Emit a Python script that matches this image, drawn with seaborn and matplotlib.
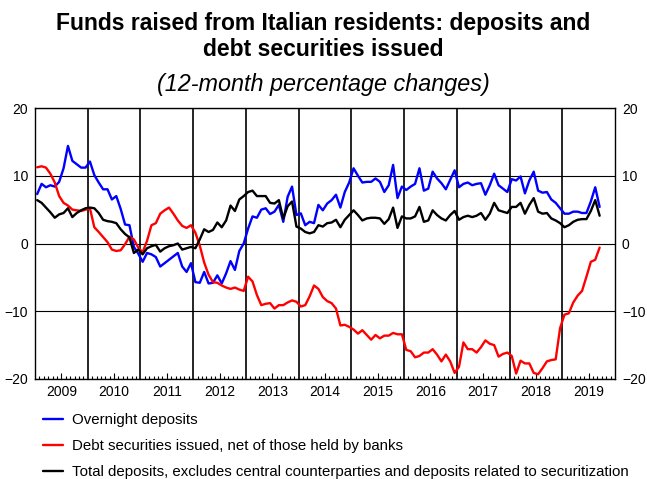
import numpy as np
import pandas as pd
import matplotlib
matplotlib.use("Agg")
import matplotlib.pyplot as plt
import seaborn as sns

# Monthly data, Jan 2009 .. Sep 2019 (12-month % changes)
start_year = 2009
overnight = [
    7.3, 8.8, 8.3, 8.6, 8.4, 9.1, 11.1, 14.4, 12.2, 11.7, 11.2, 11.2,
    12.1, 10.1, 9.0, 8.0, 8.0, 6.5, 7.0, 5.1, 2.8, 2.7, -0.5, -1.5,
    -2.7, -1.4, -1.6, -2.0, -3.4, -2.9, -2.4, -1.9, -1.4, -3.4, -4.2, -2.9,
    -5.7, -5.8, -4.2, -5.9, -5.8, -4.7, -5.9, -4.4, -2.6, -3.9, -1.1, 0.0,
    2.2, 4.0, 3.8, 5.0, 5.2, 4.35, 4.7, 5.7, 3.2, 6.9, 8.4, 4.2,
    4.45, 2.7, 3.2, 3.0, 5.7, 4.9, 5.9, 6.4, 7.2, 5.3, 7.6, 9.0,
    11.1, 10.0, 9.0, 9.1, 9.1, 9.6, 9.1, 7.6, 8.6, 11.6, 6.7, 8.4,
    7.9, 8.4, 8.8, 11.1, 7.8, 8.1, 10.6, 9.6, 8.9, 8.0, 9.4, 10.8,
    8.3, 8.8, 9.0, 8.6, 8.8, 8.9, 7.2, 8.6, 10.3, 8.6, 8.1, 7.6,
    9.5, 9.3, 9.9, 7.4, 9.3, 10.6, 7.8, 7.5, 7.6, 6.5, 6.0, 5.2,
    4.4, 4.4, 4.7, 4.7, 4.5, 4.5, 6.2, 8.3, 5.4,
]
debt_securities = [
    11.25, 11.4, 11.2, 10.3, 9.0, 7.0, 6.0, 5.6, 5.0, 4.9, 4.8, 5.0,
    5.2, 2.4, 1.7, 0.95, 0.2, -0.9, -1.1, -1.0, -0.1, 1.0, 0.6, -0.6,
    -1.3, 0.4, 2.7, 3.0, 4.4, 4.9, 5.3, 4.4, 3.4, 2.6, 2.3, 2.7,
    1.6, -0.3, -2.8, -4.6, -5.7, -5.8, -6.2, -6.5, -6.7, -6.5, -6.8, -7.0,
    -4.9, -5.6, -7.6, -9.1, -8.9, -8.8, -9.6, -9.1, -9.1, -8.7, -8.4, -8.6,
    -9.3, -9.1, -7.8, -6.2, -6.7, -7.9, -8.5, -8.8, -9.6, -12.1, -12.0, -12.3,
    -12.7, -13.3, -12.8, -13.5, -14.2, -13.5, -14.0, -13.6, -13.6, -13.2, -13.4, -13.4,
    -15.7, -15.9, -16.8, -16.6, -16.1, -16.1, -15.6, -16.4, -17.4, -16.4, -17.4, -19.1,
    -18.2, -14.6, -15.6, -15.6, -16.1, -15.3, -14.3, -14.8, -15.0, -16.7, -16.3, -16.1,
    -16.6, -19.2, -17.3, -17.7, -17.7, -19.1, -19.3, -18.4, -17.4, -17.2, -17.1, -12.5,
    -10.5, -10.3, -8.7, -7.7, -7.0, -4.9, -2.7, -2.4, -0.6,
]
total_deposits = [
    6.4, 6.0, 5.3, 4.6, 3.8, 4.3, 4.5, 5.2, 3.9, 4.5, 4.9, 5.2,
    5.3, 5.2, 4.5, 3.5, 3.3, 3.2, 3.0, 2.1, 1.4, 0.9, -1.4, -0.9,
    -1.6, -0.7, -0.4, -0.2, -1.2, -0.7, -0.4, -0.25, 0.0, -0.9, -0.7, -0.5,
    -0.7, 0.6, 2.1, 1.7, 2.0, 3.1, 2.4, 3.4, 5.6, 4.8, 6.5, 7.0,
    7.6, 7.8, 7.0, 7.0, 7.0, 6.0, 5.9, 6.4, 3.7, 5.5, 6.2, 2.5,
    2.2, 1.7, 1.5, 1.7, 2.7, 2.5, 3.0, 3.1, 3.5, 2.4, 3.5, 4.2,
    4.9, 4.2, 3.4, 3.7, 3.8, 3.8, 3.7, 2.9, 3.6, 5.3, 2.3, 4.0,
    3.7, 3.7, 4.0, 5.4, 3.2, 3.4, 4.9, 4.2, 3.7, 3.4, 4.2, 4.8,
    3.5, 3.9, 4.1, 3.9, 4.1, 4.5, 3.5, 4.4, 6.0, 4.9, 4.7, 4.5,
    5.4, 5.4, 6.0, 4.4, 5.7, 6.7, 4.7, 4.4, 4.5, 3.7, 3.4, 3.0,
    2.4, 2.7, 3.2, 3.5, 3.6, 3.6, 4.8, 6.4, 4.1,
]
series_names = [
    "Overnight deposits",
    "Debt securities issued, net of those held by banks",
    "Total deposits, excludes central counterparties and deposits related to securitization",
]
series_colors = ["#0000ff", "#ff0000", "#000000"]
years = list(range(2009, 2021))
year_labels = [str(y) for y in range(2009, 2020)]
y_ticks = [-20, -10, 0, 10, 20]
title = "Funds raised from Italian residents: deposits and\ndebt securities issued"
subtitle = "(12-month percentage changes)"

n = len(overnight)
t = start_year + (np.arange(n) + 0.5) / 12.0
df = pd.concat([
    pd.DataFrame({"t": t, "value": vals, "series": name})
    for name, vals in zip(series_names, [overnight, debt_securities, total_deposits])
], ignore_index=True)

sns.set_style("white")
plt.rcParams["font.family"] = ["Liberation Sans", "DejaVu Sans"]
plt.rcParams["text.color"] = "black"
plt.rcParams["xtick.color"] = "black"
plt.rcParams["ytick.color"] = "black"
plt.rcParams["xtick.labelcolor"] = "black"
plt.rcParams["ytick.labelcolor"] = "black"

fig = plt.figure(figsize=(6.47, 4.79), dpi=100)
ax = fig.add_axes([35 / 647, 1 - 379 / 479, 580 / 647, 271 / 479])

sns.lineplot(data=df, x="t", y="value", hue="series", hue_order=series_names,
             palette=series_colors, linewidth=1.7, ax=ax, legend=False)

ax.set_xlim(years[0], years[-1])
ax.set_ylim(-20, 20)
ax.set_xlabel("")
ax.set_ylabel("")

# horizontal grid lines
ax.set_yticks(y_ticks)
ax.yaxis.grid(True, color="black", linewidth=0.8)
ax.set_axisbelow(True)
# vertical year separators
for yr in years[1:-1]:
    ax.axvline(yr, color="black", linewidth=1.2, zorder=1)

# x ticks: labels at mid-year, monthly minor ticks
mids = [y + 0.5 for y in years[:-1]]
ax.set_xticks(mids)
ax.set_xticklabels(year_labels)
months = [y + k / 12 for y in years[:-1] for k in range(1, 12) if k != 6]
ax.set_xticks(months, minor=True)
ax.tick_params(axis="x", which="major", direction="in", length=4.5, width=0.8,
               color="black", labelsize=10, pad=4, bottom=True)
ax.tick_params(axis="x", which="minor", direction="in", length=2.5, width=0.8,
               color="black", bottom=True)
ax.tick_params(axis="y", which="both", length=0, labelsize=10, pad=5,
               labelleft=True, labelright=True)

for sp in ax.spines.values():
    sp.set_color("black")
    sp.set_linewidth(1.0)

fig.text(0.5, 1 - 36.5 / 479, title, ha="center", va="center", fontsize=16.5,
         fontweight="bold", linespacing=1.22)
fig.text(0.5, 1 - 84 / 479, subtitle, ha="center", va="center", fontsize=16.8,
         style="italic")

handles = [plt.Line2D([], [], color=c, linewidth=1.7) for c in series_colors]
fig.legend(handles, series_names, loc="upper left", bbox_to_anchor=(43 / 647, 1 - 413 / 479),
           frameon=False, fontsize=10.8, handlelength=1.35, handletextpad=0.6,
           labelspacing=0.8, borderpad=0, borderaxespad=0)

fig.savefig("out.png", dpi=100)
